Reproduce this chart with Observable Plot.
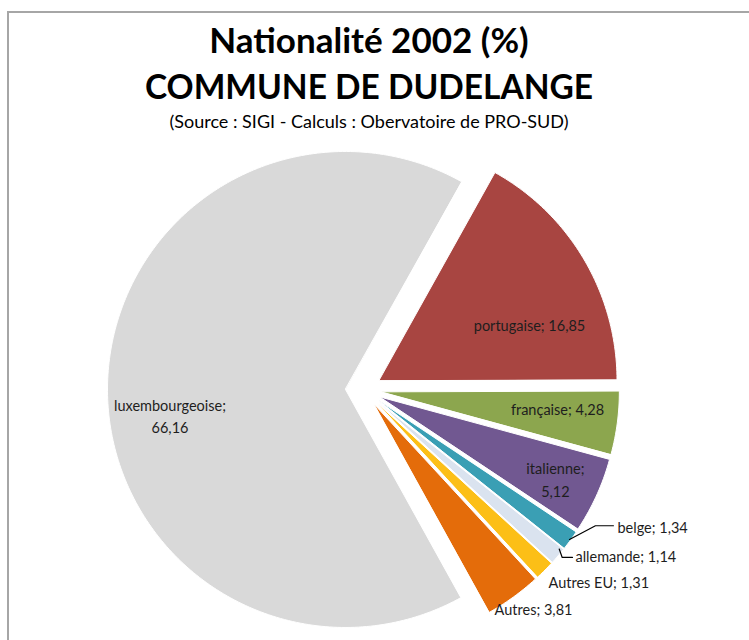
<!DOCTYPE html>
<html>
<head>
<meta charset="utf-8">
<script src="https://cdn.jsdelivr.net/npm/d3@7"></script>
<script src="https://cdn.jsdelivr.net/npm/@observablehq/plot@0.6"></script>
<style>
  html, body { margin: 0; padding: 0; background: #fff; overflow: hidden; }
  #frame { position: relative; width: 749px; height: 640px; overflow: hidden; }
  #bl { position: absolute; left: 7px; top: 11px; width: 2px; height: 640px; background: #a6a6a6; }
  #bt { position: absolute; left: 7px; top: 11px; width: 760px; height: 2px; background: #a6a6a6; }
  #head { position: relative; height: 140px; }
  .t { position: absolute; left: 0; width: 738px; text-align: center; color: #000;
       font-family: Lato, "Open Sans", sans-serif; white-space: nowrap; }
  #t1 { top: 18px; font-size: 35px; font-weight: 700; }
  #t2 { top: 66px; font-size: 33.5px; font-weight: 700; }
  #t3 { top: 110px; font-size: 18px; font-weight: 400; }
  svg { display: block; }
</style>
</head>
<body>
<div id="frame">
  <div id="bl"></div>
  <div id="bt"></div>
  <div id="head">
    <div class="t" id="t1">Nationalité 2002 (%)</div>
    <div class="t" id="t2">COMMUNE DE DUDELANGE</div>
    <div class="t" id="t3">(Source : SIGI - Calculs : Obervatoire de PRO-SUD)</div>
  </div>
  <div id="chart"></div>
</div>
<script>
// ---- data ----
const names  = ["luxembourgeoise", "portugaise", "française", "italienne", "belge", "allemande", "Autres EU", "Autres"];
const values = [66.16, 16.85, 4.28, 5.12, 1.34, 1.14, 1.31, 3.81];
const colors = ["#d9d9d9", "#a84541", "#8ca64e", "#715891", "#3a9fb4", "#dae3ef", "#fcbf17", "#e46c0a"];

// ---- layout settings ----
const W = 749, H = 500;
const CX = 363, CY = 249, R = 238;      // pie centre & radius in svg pixels
const firstSliceAngle = 151;            // degrees, clockwise from 12 o'clock
const explode = 18 / R;                 // explosion distance (radius units)
// label placement: angle (deg, cw from north) & radius fraction from exploded slice centre
const place = [
  {a: 261.8, r: 0.745, anchor: "middle", wrap: true},
  {a: 69.3,  r: 0.676, anchor: "middle"},
  {a: 95.1,  r: 0.743, anchor: "middle"},
  {a: 114.9, r: 0.813, anchor: "middle", wrap: true},
  {a: 117.7, r: 1.136, anchor: "start", leader: "bend"},
  {a: 127.7, r: 1.053, anchor: "start", leader: "hook"},
  {a: 136.0, r: 1.042, anchor: "start"},
  {a: 141.9, r: 1.086, anchor: "middle"}
];

const rad = Math.PI / 180;
const arcs = d3.pie().sort(null).value(d => d)
  .startAngle(firstSliceAngle * rad).endAngle(firstSliceAngle * rad + 2 * Math.PI)(values);

const fmt = v => v.toFixed(2).replace(".", ",");

const polys = [];
const labels = [];
const leaders = [];
arcs.forEach((arc, i) => {
  const mid = (arc.startAngle + arc.endAngle) / 2;
  const ox = explode * Math.sin(mid), oy = explode * Math.cos(mid);
  polys.push({name: names[i], x: ox, y: oy, k: 0});
  const n = Math.max(4, Math.ceil((arc.endAngle - arc.startAngle) / rad));
  for (let s = 0; s <= n; s++) {
    const a = arc.startAngle + (arc.endAngle - arc.startAngle) * s / n;
    polys.push({name: names[i], x: ox + Math.sin(a), y: oy + Math.cos(a), k: s + 1});
  }
  const p = place[i];
  const lx = ox + p.r * Math.sin(p.a * rad), ly = oy + p.r * Math.cos(p.a * rad);
  const txt = p.wrap ? `${names[i]};\n${fmt(values[i])}` : `${names[i]}; ${fmt(values[i])}`;
  labels.push({x: lx, y: ly, text: txt, anchor: p.anchor});
  if (p.leader) {
    const px = ox + 0.995 * Math.sin(mid), py = oy + 0.995 * Math.cos(mid);
    const u = 1 / R;
    let pts;
    if (p.leader === "bend") pts = [[px, py], [lx - 22 * u, ly], [lx - 4 * u, ly]];
    else pts = [[px + 2 * u, py + 6 * u], [px + 5 * u, ly - 3 * u], [lx - 3 * u, ly - 3 * u]];
    pts.forEach(([x, y]) => leaders.push({name: names[i], x, y}));
  }
});

const chart = Plot.plot({
  width: W, height: H,
  margin: 0,
  x: {domain: [-1, 1], range: [CX - R, CX + R], axis: null},
  y: {domain: [-1, 1], range: [CY + R, CY - R], axis: null},
  color: {domain: names, range: colors},
  style: {fontFamily: "Lato, 'Open Sans', sans-serif", background: "transparent"},
  marks: [
    Plot.line(polys, {x: "x", y: "y", z: "name", fill: "name", stroke: "#fff", strokeWidth: 1, curve: "linear-closed"}),
    Plot.line(leaders, {x: "x", y: "y", z: "name", stroke: "#000", strokeWidth: 1.2}),
    Plot.text(labels.filter(d => d.anchor === "middle"), {x: "x", y: "y", text: "text", textAnchor: "middle", fontSize: 14.5, lineHeight: 1.55, fill: "#1e1e1e"}),
    Plot.text(labels.filter(d => d.anchor === "start"), {x: "x", y: "y", text: "text", textAnchor: "start", fontSize: 14.5, lineHeight: 1.55, fill: "#1e1e1e"})
  ]
});
document.getElementById("chart").appendChild(chart);
</script>
</body>
</html>
